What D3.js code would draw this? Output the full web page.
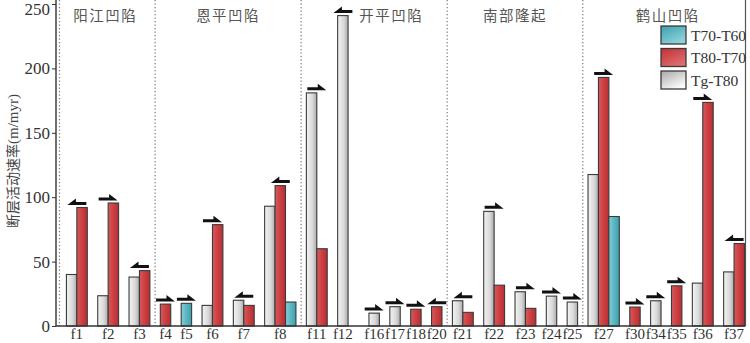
<!DOCTYPE html>
<html><head><meta charset="utf-8">
<script src="https://cdn.jsdelivr.net/npm/d3@7"></script>
<style>html,body{margin:0;padding:0;background:#fff;overflow:hidden}</style>
</head><body>
<svg id="chart" width="750" height="343"></svg>
<script>
// ---------- data ----------
const faults  = ['f1','f2','f3','f4','f5','f6','f7','f8','f11','f12','f16','f17','f18','f20','f21','f22','f23','f24','f25','f27','f30','f34','f35','f36','f37'];
const basins  = ['阳江凹陷','阳江凹陷','阳江凹陷','恩平凹陷','恩平凹陷','恩平凹陷','恩平凹陷','恩平凹陷','开平凹陷','开平凹陷','开平凹陷','开平凹陷','开平凹陷','开平凹陷','南部隆起','南部隆起','南部隆起','南部隆起','南部隆起','鹤山凹陷','鹤山凹陷','鹤山凹陷','鹤山凹陷','鹤山凹陷','鹤山凹陷'];
const tgT80   = [40, 23.5, 38, null, null, 16, 20, 93, 181, 241, 10, 15, null, null, 19.6, 89, 26.6, 23.2, 18.6, 117.6, null, 19.6, null, 33.3, 42];
const t80T70  = [92, 95.5, 43, 17, null, 78.7, 16, 109, 60, null, null, null, 13, 15, 10.6, 31.7, 13.7, null, null, 193, 14.7, null, 31.2, 173.6, 64];
const t70T60  = [null, null, null, null, 17.6, null, null, 18.6, null, null, null, null, null, null, null, null, null, null, null, 85, null, null, null, null, null];
const arrowDir = ['L','R','L','R','R','R','L','L','R','L','R','R','R','L','L','R','R','R','R','R','R','R','R','R','L'];
const seriesNames = ['T70-T60','T80-T70','Tg-T80'];
const yTicks = [0, 50, 100, 150, 200, 250];
const yTitleCJK = '断层活动速率';
const yTitleLatin = '(m/myr)';

// ---------- layout ----------
const plot = {left: 56, right: 744.5, top: 4, bottom: 326};
const extraGapAfter = {f12: 1};
const titleShift = {'开平凹陷': 17, '鹤山凹陷': 3, '阳江凹陷': -2};
const series = [
  {key: 'Tg-T80', vals: tgT80, fill: 'gGray'},
  {key: 'T80-T70', vals: t80T70, fill: 'gRed'},
  {key: 'T70-T60', vals: t70T60, fill: 'gTeal'}
];

let slot = 1;
const items = faults.map((f, i) => {
  const bars = series.filter(s => s.vals[i] != null).map(s => ({key: s.key, v: s.vals[i], fill: s.fill}));
  const it = {f, i, basin: basins[i], start: slot, n: bars.length, bars, dir: arrowDir[i]};
  slot += bars.length + 1 + (extraGapAfter[f] || 0);
  return it;
});
const nSlots = items[items.length - 1].start + items[items.length - 1].n;

const x = d3.scaleLinear().domain([0, nSlots]).range([plot.left, plot.right]);
const y = d3.scaleLinear().domain([0, 250]).range([plot.bottom, plot.top]);
const bw = x(1) - x(0);

const svg = d3.select('#chart');
const defs = svg.append('defs');
function grad(id, stops, x2, y2) {
  const g = defs.append('linearGradient').attr('id', id).attr('x1', 0).attr('y1', 0).attr('x2', x2).attr('y2', y2);
  stops.forEach(([o, c]) => g.append('stop').attr('offset', o).attr('stop-color', c));
}
grad('gGray', [[0, '#f4f4f4'], [0.6, '#d8d8d8'], [1, '#a9a9a9']], 1, 0);
grad('gRed',  [[0, '#d55a5c'], [0.5, '#cc3f42'], [1, '#b82e31']], 1, 0);
grad('gTeal', [[0, '#86cdd5'], [0.5, '#5ab7c2'], [1, '#3c9fac']], 1, 0);
grad('lGray', [[0, '#a8a8a8'], [1, '#fbfbfb']], 0.6, 1);
grad('lRed',  [[0, '#c23034'], [1, '#dc6e70']], 0.6, 1);
grad('lTeal', [[0, '#3a9fac'], [1, '#8fd3da']], 0.6, 1);

// separators (dotted)
const sepX = [plot.left + 3.5];
items.forEach((it, k) => { if (k > 0 && it.basin !== items[k - 1].basin) sepX.push(x(it.start - 0.5)); });
svg.append('g').selectAll('line').data(sepX).join('line')
  .attr('x1', d => d).attr('x2', d => d).attr('y1', 0).attr('y2', plot.bottom)
  .attr('stroke', '#777').attr('stroke-width', 1.2).attr('stroke-dasharray', '1.3,2.2');

// bars
const gb = svg.append('g');
items.forEach(it => {
  it.bars.forEach((b, j) => {
    gb.append('rect')
      .attr('x', x(it.start + j)).attr('width', bw)
      .attr('y', y(b.v)).attr('height', y(0) - y(b.v))
      .attr('fill', `url(#${b.fill})`).attr('stroke', '#3a3a3a').attr('stroke-width', 1.1);
  });
});

// arrows (half-arrow harpoons)
const aw = 19, ah = 6.5;
const ga = svg.append('g');
items.forEach(it => {
  const top = d3.min(it.bars, b => y(b.v));
  const cx = x(it.start + it.n / 2);
  const by = top - 2.5;
  const x0 = cx - aw / 2;
  let pts;
  if (it.dir === 'R') {
    pts = [[0, ah - 3], [aw * 0.55, ah - 3], [aw * 0.55, 0], [aw, ah], [0, ah]];
  } else {
    pts = [[aw, ah - 3], [aw * 0.45, ah - 3], [aw * 0.45, 0], [0, ah], [aw, ah]];
  }
  ga.append('polygon')
    .attr('points', pts.map(p => [x0 + p[0], by - ah + p[1]].join(',')).join(' '))
    .attr('fill', '#111');
});

// frame
svg.append('line').attr('x1', plot.left).attr('x2', plot.left).attr('y1', 0).attr('y2', plot.bottom).attr('stroke', '#333').attr('stroke-width', 1.4);
svg.append('line').attr('x1', plot.left).attr('x2', plot.right + 1).attr('y1', plot.bottom).attr('y2', plot.bottom).attr('stroke', '#333').attr('stroke-width', 1.4);
svg.append('line').attr('x1', plot.right + 1).attr('x2', plot.right + 1).attr('y1', 0).attr('y2', plot.bottom).attr('stroke', '#555').attr('stroke-width', 1.2);

// y axis
const yAxis = d3.axisLeft(y).tickValues(yTicks).tickSize(4).tickPadding(2).tickFormat(d3.format('d'));
const gy = svg.append('g').attr('transform', `translate(${plot.left},0)`).call(yAxis);
gy.select('.domain').remove();
gy.selectAll('line').attr('stroke', '#333');
gy.selectAll('text').attr('font-family', '"Liberation Serif", serif').attr('font-size', 17).attr('fill', '#333');
gy.selectAll('.tick').filter(d => d === 250).select('text').attr('dy', '0.6em');

// x labels
svg.append('g').selectAll('text').data(items).join('text')
  .attr('x', d => x(d.start + d.n / 2)).attr('y', 339)
  .attr('text-anchor', 'middle')
  .attr('font-family', '"Liberation Serif", serif').attr('font-size', 15).attr('fill', '#333')
  .text(d => d.f);

// group titles
const groupNames = Array.from(new Set(basins));
const bounds = sepX.concat([plot.right + 2]);
svg.append('g').selectAll('text').data(groupNames).join('text')
  .attr('x', (d, k) => (bounds[k] + bounds[k + 1]) / 2 + (titleShift[d] || 0))
  .attr('y', 21).attr('text-anchor', 'middle')
  .attr('font-family', '"Noto Sans CJK SC", sans-serif').attr('font-size', 14.5)
  .attr('letter-spacing', 1.5).attr('fill', '#555')
  .text(d => d);

// y title
const yt = svg.append('text').attr('transform', 'translate(18,161) rotate(-90)')
  .attr('text-anchor', 'middle').attr('fill', '#444').attr('font-size', 14);
yt.append('tspan').attr('font-family', '"Noto Sans CJK SC", sans-serif').text(yTitleCJK);
yt.append('tspan').attr('font-family', '"Liberation Serif", serif').attr('font-size', 15).text(yTitleLatin);

// legend
const legFill = {'T70-T60': 'lTeal', 'T80-T70': 'lRed', 'Tg-T80': 'lGray'};
const lg = svg.append('g').attr('transform', 'translate(661,26)');
const row = lg.selectAll('g').data(seriesNames).join('g').attr('transform', (d, k) => `translate(0,${k * 22.5})`);
row.append('rect').attr('width', 25).attr('height', 18)
  .attr('fill', d => `url(#${legFill[d]})`).attr('stroke', '#3a3a3a').attr('stroke-width', 1.3);
row.append('text').attr('x', 30).attr('y', 14.5)
  .attr('font-family', '"Liberation Serif", serif').attr('font-size', 15.5).attr('fill', '#333')
  .text(d => d);
</script>
</body></html>
